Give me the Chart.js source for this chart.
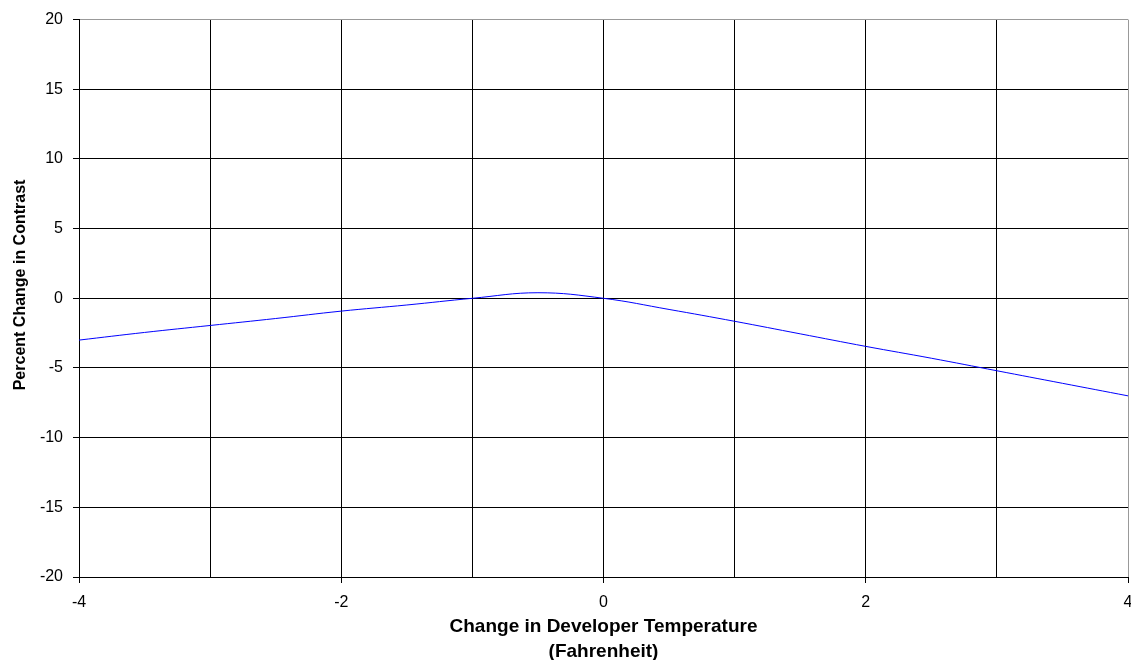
<!DOCTYPE html>
<html>
<head>
<meta charset="utf-8">
<title>Percent Change in Contrast</title>
<script src="https://cdn.jsdelivr.net/npm/chart.js@4"></script>
<style>
  html, body { margin: 0; padding: 0; background: #fff; }
  canvas { display: block; }
</style>
</head>
<body>
<canvas id="contrastChart" width="1131" height="660"></canvas>
<script>
// =============== DATA ===============

// Change in developer temperature (F)
const tempChange = [-4, -3.5, -3, -2.5, -2, -1.5, -1, -0.5, 0, 0.5, 1, 1.5, 2, 2.5, 3, 3.5, 4];

// Percent change in contrast
const contrastChange = [-3.0, -2.45, -1.95, -1.45, -0.92, -0.48, 0, 0.4, 0, -0.8, -1.65, -2.55, -3.45, -4.3, -5.2, -6.1, -7.0];

// Axis ranges
const xRange = [-4, 4];
const yRange = [-20, 20];


// =============== CHART ===============

const FONT = "'Liberation Sans', Arial, sans-serif";

function loadContrastChart() {
  const ctx = document.getElementById("contrastChart");
  if (!ctx) return;

  const points = tempChange.map((x, i) => ({ x, y: contrastChange[i] }));

  new Chart(ctx, {
    type: "line",
    data: {
      datasets: [
        {
          label: "Contrast",
          data: points,
          borderColor: "#0000ff",
          borderWidth: 1,
          pointRadius: 0,
          tension: 0.4,
          fill: false,
        },
      ],
    },
    options: {
      responsive: false,
      animation: false,
      devicePixelRatio: 1,
      layout: { padding: { top: 19, right: 3, bottom: 0, left: 0 } },
      plugins: {
        legend: { display: false },
        tooltip: { enabled: false },
      },
      scales: {
        x: {
          type: "linear",
          min: xRange[0],
          max: xRange[1],
          afterFit: (scale) => {
            scale.height = 83;
            scale.paddingRight = 0; // let the last label run to the edge
          },
          ticks: {
            stepSize: 1,
            autoSkip: false,
            maxRotation: 0,
            padding: 10,
            color: "#000",
            font: { family: FONT, size: 16 },
            callback: (v) => (v % 2 === 0 ? v : ""),
          },
          grid: {
            color: (c) => (c.tick && c.tick.value === xRange[1] ? "#999" : "#000"),
            tickColor: (c) => (c.tick && c.tick.value % 2 === 0 ? "#000" : "rgba(0,0,0,0)"),
            tickLength: 6,
            lineWidth: 1,
          },
          border: { color: "#000", width: 1 },
          title: {
            display: true,
            text: ["Change in Developer Temperature", "(Fahrenheit)"],
            color: "#000",
            font: { family: FONT, size: 19, weight: "bold", lineHeight: "25px" },
            padding: { top: 0, bottom: -4 },
          },
        },
        y: {
          min: yRange[0],
          max: yRange[1],
          afterFit: (scale) => { scale.width = 79; },
          ticks: {
            stepSize: 5,
            padding: 10,
            color: "#000",
            font: { family: FONT, size: 16 },
          },
          grid: {
            color: (c) => (c.tick && c.tick.value === yRange[1] ? "#999" : "#000"),
            tickColor: "#000",
            tickLength: 6,
            lineWidth: 1,
          },
          border: { color: "#000", width: 1 },
          title: {
            display: true,
            // leading spaces nudge the title a little above the axis centre, as in the original
            text: "      Percent Change in Contrast",
            color: "#000",
            font: { family: FONT, size: 16, weight: "bold", lineHeight: 1.41 },
            padding: { top: 9, bottom: 0 },
          },
        },
      },
    },
  });
}


// =============== INIT ===============

document.addEventListener("DOMContentLoaded", () => {
  loadContrastChart();
});
</script>
</body>
</html>
